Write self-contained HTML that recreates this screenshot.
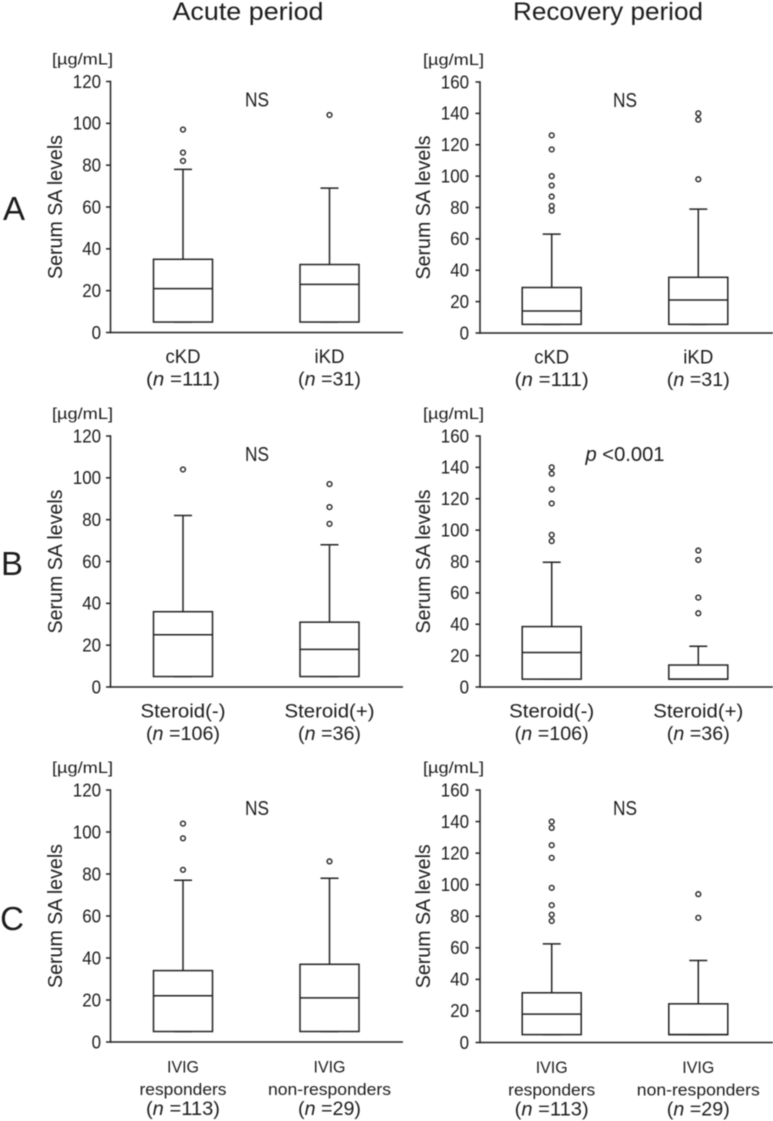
<!DOCTYPE html>
<html lang="en">
<head>
<meta charset="utf-8">
<title>Serum SA levels box plots</title>
<style>
html,body{margin:0;padding:0;background:#fff;width:773px;height:1121px;overflow:hidden}
svg{display:block;filter:blur(.4px)}
text{font-family:"Liberation Sans",sans-serif;fill:#1c1c1c}
</style>
</head>
<body>
<svg id="figure" xmlns="http://www.w3.org/2000/svg" width="773" height="1121" viewBox="0 0 773 1121">
  <text x="248" y="20" font-size="25" text-anchor="middle" textLength="151" lengthAdjust="spacingAndGlyphs">Acute period</text>
  <text x="608" y="20" font-size="25" text-anchor="middle" textLength="190" lengthAdjust="spacingAndGlyphs">Recovery period</text>
  <text x="14" y="220" font-size="33" text-anchor="middle">A</text>
  <text x="12" y="575" font-size="33" text-anchor="middle">B</text>
  <text x="12" y="930" font-size="33" text-anchor="middle">C</text>
</svg>
<script>
// Chart data: one entry per panel (A acute, A recovery, B acute, B recovery, C acute, C recovery),
// each holding one entry per box.
const acuteTicks = [0, 20, 40, 60, 80, 100, 120];
const recoveryTicks = [0, 20, 40, 60, 80, 100, 120, 140, 160];
const panelTickSets = [acuteTicks, recoveryTicks, acuteTicks, recoveryTicks, acuteTicks, recoveryTicks];
const categoryLines = [
  [["cKD"], ["iKD"]],
  [["cKD"], ["iKD"]],
  [["Steroid(-)"], ["Steroid(+)"]],
  [["Steroid(-)"], ["Steroid(+)"]],
  [["IVIG", "responders"], ["IVIG", "non-responders"]],
  [["IVIG", "responders"], ["IVIG", "non-responders"]]
];
const sampleSizes = [[111, 31], [111, 31], [106, 36], [106, 36], [113, 29], [113, 29]];
const significance = ["NS", "NS", "NS", "p <0.001", "NS", "NS"];
const whiskerLow = [[5, 5], [5.5, 5.5], [5, 5], [5, 5], [5, 5], [5, 5]];
const lowerQuartile = [[5, 5], [5.5, 5.5], [5, 5], [5, 5], [5, 5], [5, 5]];
const medianValue = [[21, 23], [14, 21], [25, 18], [22, 5], [22, 21], [18, 5]];
const upperQuartile = [[35, 32.5], [29, 35.5], [36, 31], [38.5, 14], [34, 37], [31.5, 24.5]];
const whiskerHigh = [[78, 69], [63, 79], [82, 68], [79.5, 26], [77, 78], [62.5, 52]];
const outlierValues = [
  [[82, 86, 97], [104]],
  [[78, 81, 87, 94, 100, 117, 126], [98, 136, 140]],
  [[104], [78, 86, 97]],
  [[93, 97, 117, 126, 136, 140], [47, 57, 81, 87]],
  [[82, 97, 104], [86]],
  [[77, 81, 87, 98, 117, 125, 136, 140], [79, 94]]
];

// Layout of each panel on the page.
const layout = [
  {col: 0, zero: 332.5, top: 81.5},
  {col: 1, zero: 333, top: 82},
  {col: 0, zero: 687, top: 436},
  {col: 1, zero: 687, top: 436},
  {col: 0, zero: 1042, top: 790},
  {col: 1, zero: 1042.5, top: 790}
];
const columns = [
  {axisX: 110.5, endX: 403, centers: [183, 329.5], tickEnd: 101, titleX: 62, unitX: 82.5, sigX: 257},
  {axisX: 480, endX: 773, centers: [551.7, 698.3], tickEnd: 469, titleX: 430, unitX: 453.5, sigX: 625}
];
const labelWidths = {
  "cKD": 35,
  "iKD": 30,
  "Steroid(-)": 85,
  "Steroid(+)": 90,
  "IVIG": 32,
  "responders": 87,
  "non-responders": 123
};
const rowNames = ["a-acute", "a-recovery", "b-acute", "b-recovery", "c-acute", "c-recovery"];
const titleWidth = 144;
const boxHalf = 29.5;
const capHalf = 9;
const INK = "#222";
const SVGNS = "http://www.w3.org/2000/svg";
const figure = document.getElementById("figure");

function make(tag, attrs, parent) {
  const el = document.createElementNS(SVGNS, tag);
  for (const k in attrs) el.setAttribute(k, attrs[k]);
  parent.appendChild(el);
  return el;
}
function line(parent, x1, y1, x2, y2, w) {
  return make("line", {x1: x1, y1: y1, x2: x2, y2: y2, stroke: INK, "stroke-width": w || 1.5}, parent);
}
function label(parent, str, x, y, size, anchor, width) {
  const attrs = {x: x, y: y, "font-size": size, "text-anchor": anchor || "middle"};
  if (width) {
    attrs.textLength = width;
    attrs.lengthAdjust = "spacingAndGlyphs";
  }
  const t = make("text", attrs, parent);
  t.textContent = str;
  return t;
}

layout.forEach(function (p, i) {
  const col = columns[p.col];
  const ticks = panelTickSets[i];
  const maxTick = ticks[ticks.length - 1];
  const yScale = function (v) { return p.zero - (v / maxTick) * (p.zero - p.top); };

  const panel = make("g", {}, figure);
  
  

  // axes
  const yAxis = line(panel, col.axisX, p.top - 0.7, col.axisX, p.zero + 0.7);
  
  
  const xAxis = line(panel, col.axisX, p.zero, col.endX, p.zero);
  
  

  ticks.forEach(function (t) {
    const y = yScale(t);
    const mark = line(panel, col.axisX - 4.5, y, col.axisX, y);
    
    
    const lab = label(panel, String(t), col.tickEnd, y + 6.3, 18, "end", String(t).length * 9.4);
    
    
  });

  // axis title and unit
  const cy = (p.zero + p.top) / 2;
  const title = label(panel, "Serum SA levels", 0, 0, 20, "middle", titleWidth);
  title.setAttribute("transform", "translate(" + col.titleX + "," + cy + ") rotate(-90)");
  
  
  const unit = label(panel, "[\u00b5g/mL]", col.unitX, p.top - 17, 16, "middle", 61);
  
  

  // significance annotation
  const sigY = p.top + 25;
  const sigStr = significance[i];
  let sig;
  if (sigStr.charAt(0) === "p") {
    sig = label(panel, "", col.sigX, sigY, 20, "middle", 79);
    const it = make("tspan", {"font-style": "italic"}, sig);
    it.textContent = "p";
    const rest = make("tspan", {}, sig);
    rest.textContent = sigStr.slice(1);
  } else {
    sig = label(panel, sigStr, col.sigX, sigY, 20, "middle", 24);
  }
  
  

  // boxes
  col.centers.forEach(function (cx, b) {
    const g = make("g", {}, panel);
    
    

    const yHigh = yScale(whiskerHigh[i][b]);
    const yQ3 = yScale(upperQuartile[i][b]);
    const yQ1 = yScale(lowerQuartile[i][b]);
    const yLow = yScale(whiskerLow[i][b]);
    const yMed = yScale(medianValue[i][b]);

    const stem = line(g, cx, yHigh, cx, yQ3);
    
    
    const cap = line(g, cx - capHalf, yHigh, cx + capHalf, yHigh);
    
    
    const lowCap = line(g, cx - capHalf, yLow, cx + capHalf, yLow);
    
    

    const rect = make("rect", {x: cx - boxHalf, y: yQ3, width: boxHalf * 2, height: yQ1 - yQ3, fill: "#fff", stroke: INK, "stroke-width": 1.5}, g);
    
    
    const med = line(g, cx - boxHalf, yMed, cx + boxHalf, yMed);
    
    

    outlierValues[i][b].forEach(function (v) {
      const dot = make("circle", {cx: cx, cy: yScale(v), r: 2.4, fill: "#fff", stroke: INK, "stroke-width": 1.4}, g);
      
      
    });

    // category labels
    const lines = categoryLines[i][b];
    const threeLine = lines.length > 1;
    lines.forEach(function (txt, n) {
      const lab = label(g, txt, cx, p.zero + 30.5 + n * 22.5, threeLine ? 17 : 19, "middle", labelWidths[txt]);
      
      
    });
    const nY = p.zero + (threeLine ? 73 : 53);
    const sizeStr = String(sampleSizes[i][b]);
    const nLab = label(g, "", cx, nY, 19, "middle", sizeStr.length > 2 ? 74 : 63);
    const open = make("tspan", {}, nLab);
    open.textContent = "(";
    const nIt = make("tspan", {"font-style": "italic"}, nLab);
    nIt.textContent = "n";
    const close = make("tspan", {}, nLab);
    close.textContent = " =" + sizeStr + ")";
    
    
  });
});
</script>
</body>
</html>
